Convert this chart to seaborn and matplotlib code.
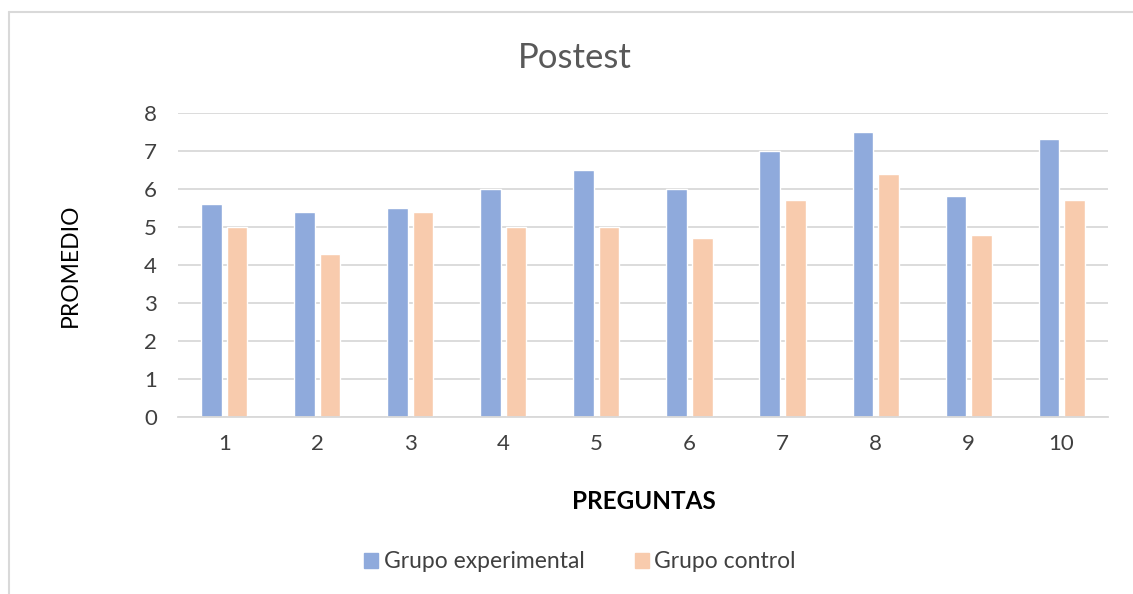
import pandas as pd
import matplotlib.pyplot as plt
import seaborn as sns
from matplotlib.lines import Line2D

# Data
preguntas = ['1', '2', '3', '4', '5', '6', '7', '8', '9', '10']
experimental = [5.6, 5.4, 5.5, 6.0, 6.5, 6.0, 7.0, 7.5, 5.8, 7.3]
control = [5.0, 4.3, 5.4, 5.0, 5.0, 4.7, 5.7, 6.4, 4.8, 5.7]
grupos = ['Grupo experimental', 'Grupo control']
colores = ['#8FAADC', '#F8CBAD']

df = pd.DataFrame({
    'Pregunta': preguntas * 2,
    'Promedio': experimental + control,
    'Grupo': [grupos[0]] * len(preguntas) + [grupos[1]] * len(preguntas),
})

sns.set_style('white')
plt.rcParams['font.family'] = ['Lato', 'DejaVu Sans']

fig = plt.figure(figsize=(11.33, 5.94), dpi=100)
ax = fig.add_axes([0.157, 0.298, 0.821, 0.512])

sns.barplot(data=df, x='Pregunta', y='Promedio', hue='Grupo', order=preguntas,
            hue_order=grupos, palette=colores, width=0.55, gap=0.2,
            saturation=1, ax=ax)

ax.set_ylim(0, 8)
ax.set_yticks(range(0, 9))
ax.grid(axis='y', color='#D9D9D9', linewidth=1.3)
ax.set_axisbelow(True)
for s in ['top', 'right', 'left']:
    ax.spines[s].set_visible(False)
ax.spines['bottom'].set_color('#D9D9D9')
ax.spines['bottom'].set_linewidth(1.3)
ax.tick_params(axis='y', length=0, labelsize=16, colors='#404040', pad=15)
ax.tick_params(axis='x', length=0, labelsize=16, colors='#404040', pad=12)

ax.set_xlabel('')
ax.set_ylabel('')
fig.text(0.568, 0.155, 'PREGUNTAS', ha='center', va='center', fontsize=17.5,
         fontweight='bold', color='#000000')
fig.text(0.062, 0.554, 'PROMEDIO', ha='center', va='center', rotation=90,
         fontsize=16.5, color='#000000')
fig.text(0.5075, 0.902, 'Postest', ha='center', va='center', fontsize=25, color='#595959')

ax.legend_.remove()
handles = [plt.Rectangle((0, 0), 1, 1, color=c) for c in colores]
fig.legend(handles, grupos, loc='center', bbox_to_anchor=(0.512, 0.054), ncol=2,
           frameon=False, fontsize=16.5, handlelength=0.6, handleheight=0.6,
           handletextpad=0.25, columnspacing=2.2, labelcolor='#404040')

# light chart border (top and left as seen)
fig.add_artist(Line2D([0.008, 1.0], [0.98, 0.98], color='#D9D9D9', linewidth=1.5,
                      transform=fig.transFigure))
fig.add_artist(Line2D([0.008, 0.008], [0.0, 0.98], color='#D9D9D9', linewidth=1.5,
                      transform=fig.transFigure))

fig.savefig('out.png', dpi=100)
